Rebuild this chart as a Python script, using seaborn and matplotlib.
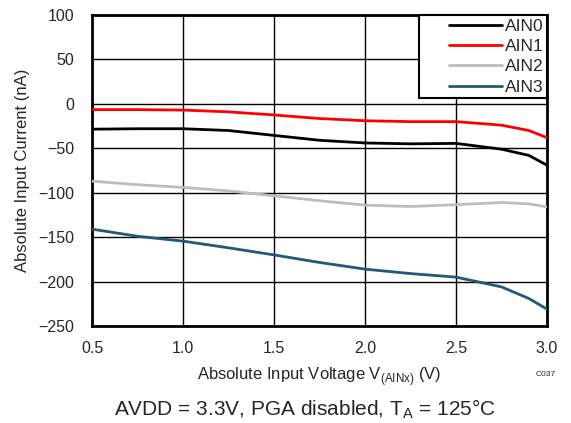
import matplotlib
matplotlib.use("Agg")
import matplotlib.pyplot as plt
import seaborn as sns
import pandas as pd
from matplotlib.legend_handler import HandlerLine2D
from matplotlib.lines import Line2D

voltage = [0.5, 0.75, 1.0, 1.25, 1.5, 1.75, 2.0, 2.25, 2.5, 2.75, 2.9, 3.0]
ain0 = [-28.5, -28, -28, -30, -35.5, -41, -44, -45, -44.5, -51, -58, -69]
ain1 = [-6.5, -6.5, -7, -9, -12.5, -16.5, -19, -20, -20, -24, -30, -38]
ain2 = [-87, -91, -94, -98, -103.5, -109, -114, -115.5, -113.5, -111, -112.5, -116]
ain3 = [-141, -149, -154.5, -162, -170, -178.5, -186, -191, -195, -206, -219, -231]
series_names = ["AIN0", "AIN1", "AIN2", "AIN3"]
colors = ["#000000", "#ff0000", "#bdbdbd", "#1f5a78"]
xticks = [0.5, 1.0, 1.5, 2.0, 2.5, 3.0]
yticks = [100, 50, 0, -50, -100, -150, -200, -250]

sns.set_style("white")
plt.rcParams['font.family'] = ['Liberation Sans', 'DejaVu Sans']


class ShiftedLine(HandlerLine2D):
    def create_artists(self, legend, orig_handle, xdescent, ydescent,
                       width, height, fontsize, trans):
        shift = width * 0.33
        return super().create_artists(legend, orig_handle, xdescent - shift,
                                      ydescent, width - shift, height,
                                      fontsize, trans)


rows = []
for name, vals in zip(series_names, [ain0, ain1, ain2, ain3]):
    for v, c in zip(voltage, vals):
        rows.append({"V": v, "I": c, "Series": name})
df = pd.DataFrame(rows)

fig = plt.figure(figsize=(5.71, 4.23), dpi=100)
ax = fig.add_axes([92/571, 1-326/423, (547-92)/571, (326-15)/423])
sns.lineplot(data=df, x="V", y="I", hue="Series", palette=colors, ax=ax,
             linewidth=2, zorder=3)
ax.set_xlim(0.5, 3.0)
ax.set_ylim(-250, 100)
ax.set_xticks(xticks)
ax.set_yticks(yticks)
ax.set_xticklabels([f"{t:.1f}" for t in xticks])
ax.grid(True, color="black", linewidth=1)
ax.tick_params(axis="both", labelsize=11.5, length=0)
ax.tick_params(axis="x", pad=11)
ax.tick_params(axis="y", pad=13)
for s in ax.spines.values():
    s.set_linewidth(2)
    s.set_color("black")
ax.set_xlabel("Absolute Input Voltage V$_{\\mathregular{(AINx)}}$ (V)", fontsize=12, labelpad=6)
ax.set_ylabel("Absolute Input Current (nA)", fontsize=12, labelpad=6)
handles, labels = ax.get_legend_handles_labels()
leg = ax.legend(handles, labels, loc="upper right", fontsize=12.5, frameon=True,
                fancybox=False, borderaxespad=0, handlelength=4.6,
                labelspacing=0.3, borderpad=0.2, handletextpad=0.15,
                handler_map={Line2D: ShiftedLine()})
leg.get_frame().set_edgecolor("black")
leg.get_frame().set_linewidth(1.5)
leg.get_frame().set_alpha(1)
fig.text(556/571, 1-375/423, "C037", fontsize=6, ha="right", va="center")
fig.text(305/571, 1-409/423, "AVDD = 3.3V, PGA disabled, T$_{\\mathregular{A}}$ = 125°C",
         fontsize=15, ha="center", va="center")
fig.savefig("out.png", dpi=100)
